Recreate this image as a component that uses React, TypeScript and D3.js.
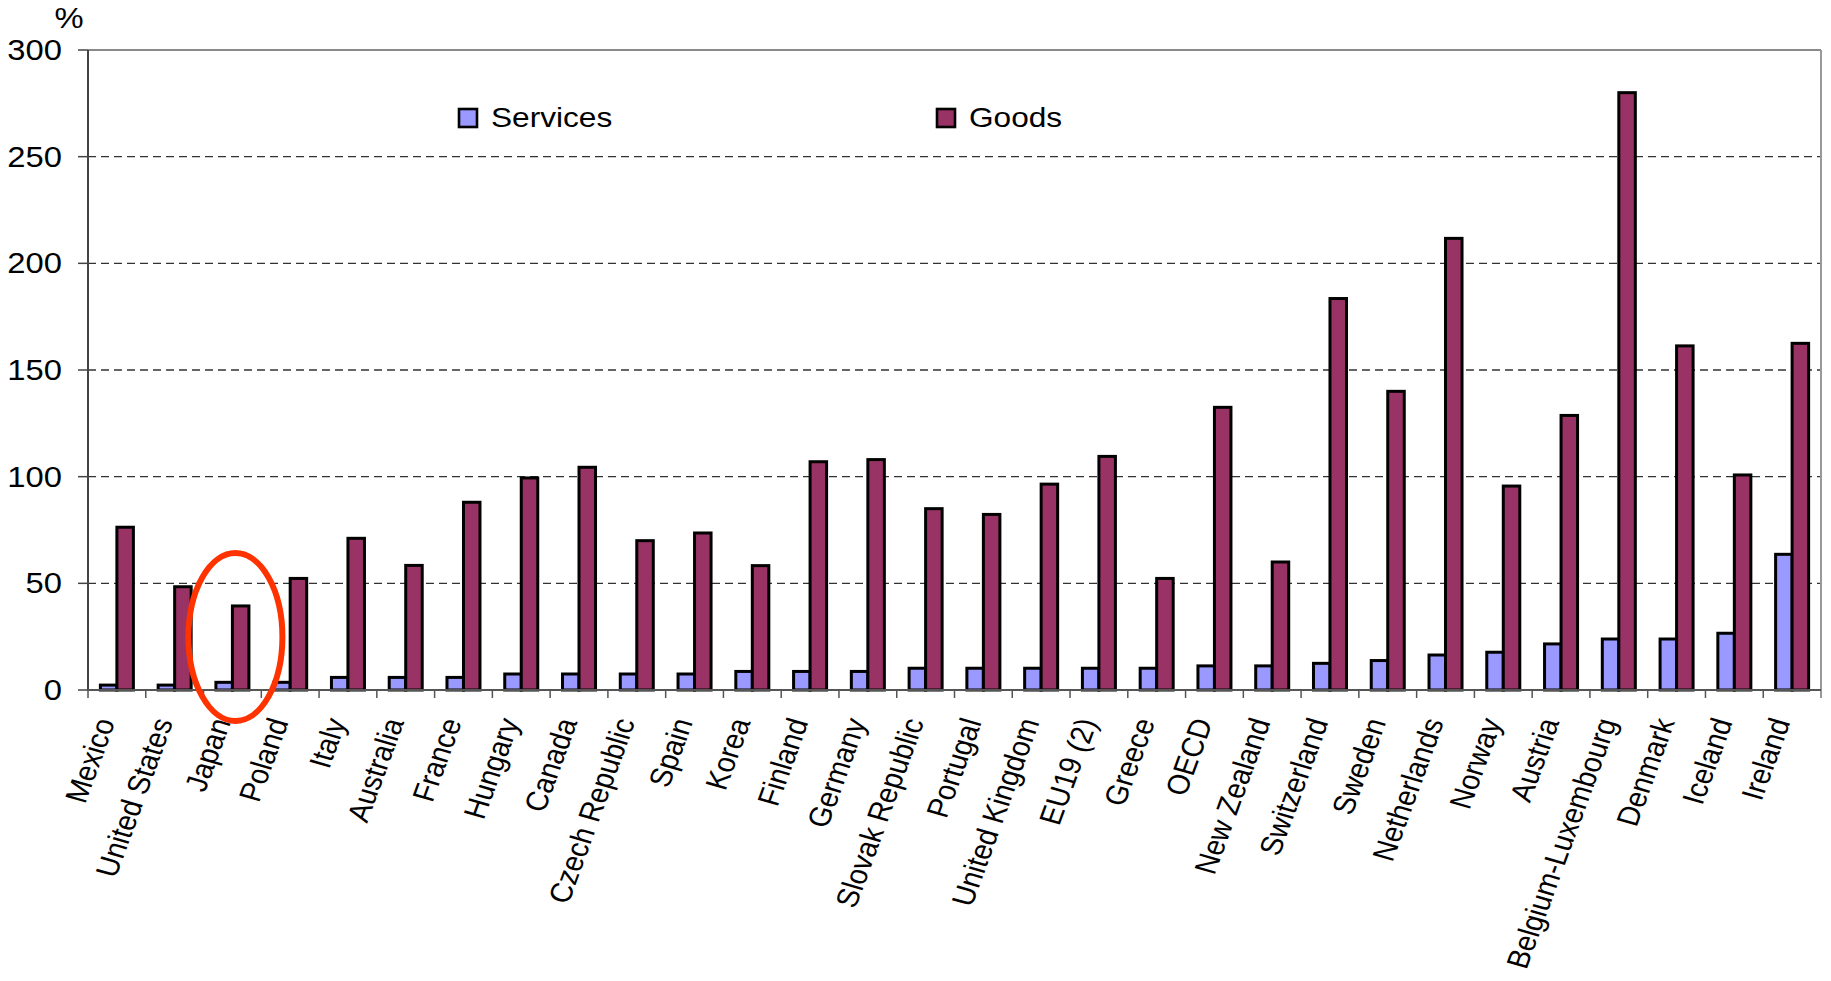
import React from "react";
import * as d3 from "d3";

const categories = [
  "Mexico", "United States", "Japan", "Poland", "Italy", "Australia", "France", "Hungary",
  "Canada", "Czech Republic", "Spain", "Korea", "Finland", "Germany", "Slovak Republic",
  "Portugal", "United Kingdom", "EU19 (2)", "Greece", "OECD", "New Zealand", "Switzerland",
  "Sweden", "Netherlands", "Norway", "Austria", "Belgium-Luxembourg", "Denmark", "Iceland", "Ireland",
];

const services = [
  2.3, 2.3, 3.6, 3.6, 5.9, 5.9, 5.9, 7.5, 7.5, 7.5, 7.5, 8.7, 8.7, 8.7, 10.2,
  10.2, 10.2, 10.2, 10.2, 11.3, 11.3, 12.5, 13.8, 16.4, 17.7, 21.6, 23.9, 23.9, 26.6, 63.6,
];

const goods = [
  76.3, 48.4, 39.4, 52.3, 71.1, 58.4, 88, 99.4, 104.4, 70, 73.6, 58.3, 107, 108, 85,
  82.3, 96.5, 109.5, 52.3, 132.5, 60, 183.5, 140, 211.7, 95.6, 128.7, 280, 161.3, 100.8, 162.5,
];

const seriesNames = ["Services", "Goods"];
const seriesColors = ["#9999FF", "#993366"];
const yTicks = [0, 50, 100, 150, 200, 250, 300];
const highlighted = "Japan";

const W = 1831;
const H = 981;
const left = 88;
const right = 1821;
const top = 50;
const bottom = 690;
const SX = 1.13;
const FONT = "Arial, 'Liberation Sans', Helvetica, sans-serif";

export default function App() {
  const x0 = d3.scaleBand<string>().domain(categories).range([left, right]).padding(0);
  const x1 = d3
    .scaleBand<string>()
    .domain(seriesNames)
    .range([0, x0.bandwidth()])
    .paddingInner(0)
    .paddingOuter(0.75);
  const y = d3.scaleLinear().domain([0, 300]).range([bottom, top]);
  const values = [services, goods];

  const hx = (x0(highlighted) as number) + x0.bandwidth() / 2 + 3;

  return (
    <svg
      width={W}
      height={H}
      style={{ position: "absolute", left: 0, top: 0, background: "#fff" }}
      fontFamily={FONT}
    >
      <rect x={0} y={0} width={W} height={H} fill="#fff" />
      {/* gridlines */}
      {yTicks
        .filter((t) => t > 0 && t < 300)
        .map((t) => (
          <line
            key={"g" + t}
            x1={left}
            x2={right}
            y1={y(t)}
            y2={y(t)}
            stroke="#333"
            strokeWidth={1.3}
            strokeDasharray="8,5"
          />
        ))}
      {/* frame top/right */}
      <line x1={left} x2={right} y1={y(300)} y2={y(300)} stroke="#8a8a8a" strokeWidth={2} />
      <line x1={right} x2={right} y1={y(300)} y2={bottom + 8} stroke="#999" strokeWidth={2} />

      {/* bars */}
      {categories.map((c, i) => (
        <g key={c}>
          {seriesNames.map((s, k) => {
            const v = values[k][i];
            const bx = (x0(c) as number) + (x1(s) as number);
            return (
              <rect
                key={s}
                x={bx}
                y={y(v)}
                width={x1.bandwidth()}
                height={y(0) - y(v)}
                fill={seriesColors[k]}
                stroke="#000"
                strokeWidth={3}
              />
            );
          })}
        </g>
      ))}

      {/* axes */}
      <line x1={left} x2={left} y1={y(300)} y2={bottom} stroke="#444" strokeWidth={2} />
      <line x1={left} x2={right} y1={bottom} y2={bottom} stroke="#555" strokeWidth={2} />
      {yTicks.map((t) => (
        <g key={"t" + t}>
          <line x1={left - 10} x2={left} y1={y(t)} y2={y(t)} stroke="#444" strokeWidth={1.5} />
          <text
            transform={`translate(${left - 26},${y(t)}) scale(${SX},1)`}
            textAnchor="end"
            dominantBaseline="central"
            fontSize={29}
            fill="#000"
          >
            {t}
          </text>
        </g>
      ))}
      {categories.map((c, i) => (
        <line
          key={"xt" + i}
          x1={x0(c) as number}
          x2={x0(c) as number}
          y1={bottom}
          y2={bottom + 8}
          stroke="#555"
          strokeWidth={1.5}
        />
      ))}
      {categories.map((c) => {
        const cx = (x0(c) as number) + x0.bandwidth() / 2;
        return (
          <text
            key={"l" + c}
            transform={`translate(${cx - 12},${bottom + 29}) scale(${SX},1) rotate(-72)`}
            textAnchor="end"
            dominantBaseline="central"
            fontSize={27.5}
            fill="#000"
          >
            {c}
          </text>
        );
      })}

      {/* unit */}
      <text
        transform={`translate(69,18) scale(${SX},1)`}
        textAnchor="middle"
        dominantBaseline="central"
        fontSize={29}
      >
        %
      </text>

      {/* legend */}
      {seriesNames.map((s, k) => {
        const lx = k === 0 ? 459 : 937;
        return (
          <g key={"lg" + s}>
            <rect x={lx} y={109} width={18} height={18} fill={seriesColors[k]} stroke="#000" strokeWidth={2.6} />
            <text transform={`translate(${lx + 32},127) scale(${SX},1)`} fontSize={28} fill="#000">
              {s}
            </text>
          </g>
        );
      })}

      {/* highlight ellipse */}
      <ellipse cx={hx} cy={637} rx={47} ry={84} fill="none" stroke="#FF3300" strokeWidth={6} />
    </svg>
  );
}
